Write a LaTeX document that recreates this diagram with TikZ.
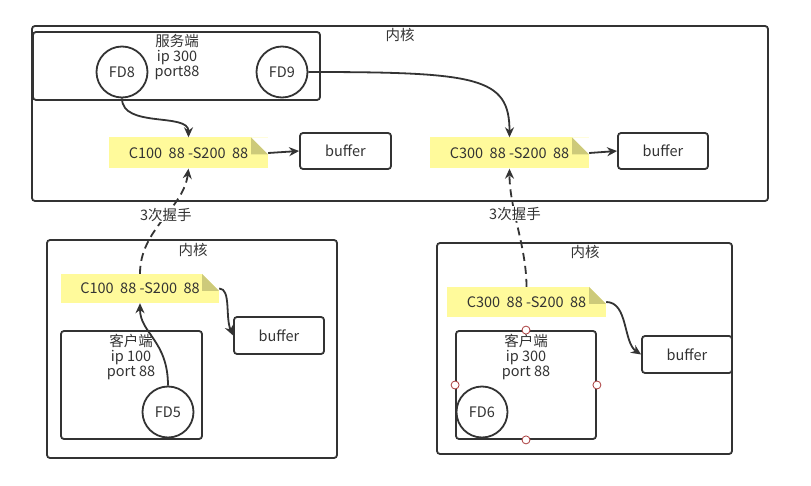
\documentclass[tikz,border=0pt]{standalone}
\usepackage{fontspec}
\setmainfont{Noto Sans CJK SC}
\usetikzlibrary{arrows.meta}
\definecolor{linegray}{RGB}{51,51,51}
\definecolor{noteyellow}{RGB}{255,250,155}
\definecolor{notefold}{RGB}{205,202,122}
\definecolor{handlered}{RGB}{170,60,60}
\tikzset{
  box/.style={draw=linegray, line width=1.8pt, rounded corners=3pt, inner sep=0pt},
  fd/.style={draw=linegray, circle, line width=1.8pt, minimum size=51pt, inner sep=0pt},
  note/.style={fill=noteyellow, inner sep=0pt, minimum height=31pt, minimum width=159pt,
    path picture={
      \fill[white] (path picture bounding box.north east) -- ++(-17pt,0pt) -- ++(17pt,-17pt) -- cycle;
      \fill[notefold] (path picture bounding box.north east) ++(-17pt,0pt) -- ++(0pt,-17pt) -- ++(17pt,0pt) -- cycle;
    }},
  lbl/.style={align=center, inner sep=0pt},
  arr/.style={draw=linegray, line width=1.8pt, -{Stealth[length=10pt,width=9pt]}},
  hs/.style={arr, dash pattern=on 8pt off 5pt},
  handle/.style={circle, draw=handlered, fill=white, line width=0.8pt, minimum size=8pt, inner sep=0pt}
}
\begin{document}
\begin{tikzpicture}[x=1pt, y=-1pt, font=\fontsize{14.5}{15}\selectfont, text=linegray]
  \useasboundingbox (0,0) rectangle (811,486);

  % server side
  \node (kern1) at (400,113.5) [box, minimum width=736pt, minimum height=175pt] {};
  \node (kern1l) at (400,35) [lbl] {内核};
  \node (srv) at (176.5,66) [box, minimum width=287pt, minimum height=68pt] {};
  \node (srvl) at (177,57) [lbl] {服务端\\ip 300\\port88};
  \node (fd8) at (122,72) [fd] {FD8};
  \node (fd9) at (282,72) [fd] {FD9};
  \node (n1) at (188.5,153) [note] {C100\ \ 88 -S200\ \ 88};
  \node (n2) at (509.5,153) [note] {C300\ \ 88 -S200\ \ 88};
  \node (buf1) at (345.5,151) [box, minimum width=91pt, minimum height=36pt] {buffer};
  \node (buf2) at (663,151) [box, minimum width=90pt, minimum height=36pt] {buffer};

  % client 1
  \node (kern2) at (192,349) [box, minimum width=290pt, minimum height=218pt] {};
  \node (kern2l) at (193,250) [lbl] {内核};
  \node (n3) at (140,288.5) [note, minimum height=29pt, minimum width=158pt] {C100\ \ 88 -S200\ \ 88};
  \node (buf3) at (279,335.5) [box, minimum width=90pt, minimum height=37pt] {buffer};
  \node (cli1) at (131.5,385) [box, minimum width=141pt, minimum height=108pt] {};
  \node (cli1l) at (131,357) [lbl] {客户端\\ip 100\\port 88};
  \node (fd5) at (168,412) [fd] {FD5};

  % client 2
  \node (kern3) at (584.5,348.5) [box, minimum width=295pt, minimum height=211pt] {};
  \node (kern3l) at (585,252) [lbl] {内核};
  \node (n4) at (526.5,302) [note, minimum height=30pt] {C300\ \ 88 -S200\ \ 88};
  \node (buf4) at (687,354.5) [box, minimum width=90pt, minimum height=37pt] {buffer};
  \node (cli2) at (526,385) [box, minimum width=140pt, minimum height=108pt] {};
  \node (cli2l) at (526,357) [lbl] {客户端\\ip 300\\port 88};
  \node (fd6) at (482,412) [fd] {FD6};
  \foreach \a in {north,south,east,west}
    \node (h\a) at (cli2.\a) [handle] {};

  % connectors
  \draw[arr] (fd8.south) .. controls +(0,30) and +(0,-25) .. (n1.north);
  \draw[arr] (fd9.east) .. controls +(170,0) and +(0,-60) .. (n2.north);
  \draw[arr] (n1.east) -- (buf1.west);
  \draw[arr] (n2.east) -- (buf2.west);
  \draw[arr] (fd5.north) .. controls +(0,-45) and +(0,30) .. (n3.south);
  \draw[arr] (n3.east) .. controls +(12,0) and +(-8,-18) .. (buf3.west);
  \draw[arr] (n4.east) .. controls +(22,0) and +(-18,-12) .. (buf4.west);
  \draw[hs] (n3.north) .. controls +(0,-45) and +(-5,40) .. node[pos=0.55, fill=white, inner sep=1pt] (hs1) {3次握手} (n1.south);
  \draw[hs] (n4.north) .. controls +(0,-40) and +(0,40) .. node[pos=0.62, fill=white, inner sep=1pt] (hs2) {3次握手} (n2.south);
\end{tikzpicture}
\end{document}
